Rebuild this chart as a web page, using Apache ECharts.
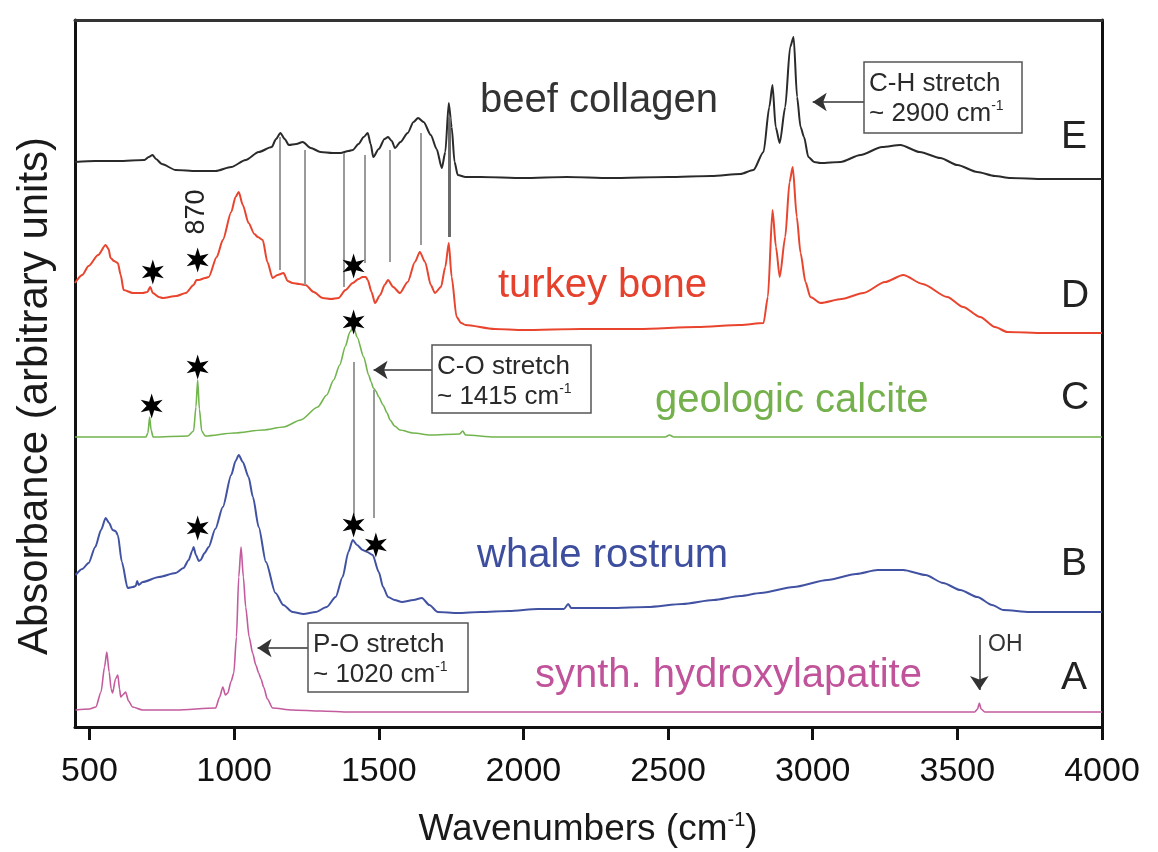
<!DOCTYPE html>
<html><head><meta charset="utf-8">
<script src="https://cdn.jsdelivr.net/npm/echarts@6/dist/echarts.min.js"></script>
<style>html,body{margin:0;padding:0;background:#fff}#c{width:1158px;height:852px}</style>
</head><body><div id="c"></div>
<script>
// ---------------- data (wavenumber cm-1, absorbance arbitrary units with offsets) ----------------
const xTicks = [500, 1000, 1500, 2000, 2500, 3000, 3500, 4000];

const beefCollagen = [[450,565],[520,566],[600,566],[690,567],[705,570],[718,572],[730,568],[750,563],[798,557],[870,556],[936,556],[990,560],[1040,567],[1085,575],[1130,580],[1145,588],[1160,594],[1175,588],[1189,582],[1215,583],[1237,585],[1265,579],[1299,575],[1340,574],[1368,574],[1395,576],[1410,577],[1430,583],[1448,590],[1462,594],[1472,583],[1481,570],[1500,578],[1520,588],[1532,590],[1545,586],[1556,579],[1575,585],[1600,594],[1620,605],[1636,609],[1655,605],[1680,592],[1700,578],[1718,559],[1730,575],[1742,624],[1752,600],[1762,565],[1773,552],[1800,550],[1852,550],[2000,549],[2150,550],[2300,549],[2500,550],[2650,551],[2750,553],[2795,557],[2830,575],[2850,620],[2861,642],[2872,600],[2886,584],[2905,620],[2922,680],[2934,690],[2946,630],[2958,600],[2970,590],[2985,570],[3005,565],[3027,564],[3096,565],[3165,572],[3240,580],[3303,582],[3370,575],[3441,569],[3500,562],[3569,555],[3630,551],[3683,549],[3800,548],[4000,548]];

const turkeyBone = [[450,444],[475,452],[497,461],[530,472],[556,482],[566,478],[573,469],[585,466],[598,464],[608,452],[618,437],[650,434],[684,434],[700,435],[710,440],[719,434],[740,430],[753,429],[800,431],[833,434],[860,442],[870,447],[878,447],[900,449],[912,450],[940,470],[961,487],[990,515],[1005,530],[1016,535],[1030,522],[1050,504],[1070,493],[1082,490],[1099,487],[1115,465],[1133,449],[1150,452],[1171,454],[1185,446],[1202,444],[1225,443],[1247,442],[1275,435],[1306,429],[1335,428],[1361,429],[1385,437],[1410,444],[1430,448],[1444,450],[1455,450],[1462,447],[1475,435],[1487,424],[1505,432],[1520,442],[1532,447],[1550,440],[1573,434],[1600,445],[1625,465],[1642,475],[1660,465],[1680,442],[1694,434],[1715,440],[1730,460],[1742,484],[1752,450],[1769,410],[1785,404],[1800,402],[1900,398],[2000,397],[2200,398],[2400,398],[2600,400],[2750,402],[2830,404],[2845,430],[2861,517],[2873,480],[2886,450],[2905,490],[2920,545],[2931,560],[2945,510],[2958,474],[2975,445],[2992,430],[3027,424],[3100,428],[3175,434],[3250,445],[3313,452],[3380,443],[3465,430],[3520,420],[3579,410],[3630,400],[3673,395],[3800,394],[4000,394]];

const geologicCalcite = [[450,290],[600,290],[695,290],[702,294],[708,310],[713,297],[720,290],[840,291],[860,296],[868,320],[874,347],[880,318],[888,296],[900,291],[1000,294],[1100,297],[1171,300],[1230,307],[1289,320],[1320,332],[1344,347],[1365,362],[1385,381],[1400,395],[1413,400],[1425,390],[1448,370],[1465,352],[1474,345],[1481,339],[1490,336],[1500,330],[1515,322],[1529,314],[1539,307],[1555,301],[1573,297],[1620,294],[1677,292],[1780,293],[1790,296],[1800,292],[1900,290],[2000,290],[2490,290],[2505,292],[2520,290],[3000,290],[4000,290]];

const whaleRostrum = [[452,152],[475,158],[497,164],[520,180],[540,197],[556,209],[568,204],[580,197],[590,196],[598,192],[612,165],[632,139],[650,140],[660,141],[665,146],[670,142],[684,145],[740,150],[798,154],[825,159],[843,167],[855,176],[860,180],[868,172],[878,166],[884,167],[898,174],[912,180],[935,198],[961,220],[990,252],[1005,266],[1016,272],[1030,265],[1050,250],[1065,230],[1085,200],[1110,165],[1143,134],[1170,122],[1202,115],[1240,113],[1282,115],[1320,120],[1351,130],[1375,150],[1395,175],[1410,187],[1425,182],[1444,177],[1460,175],[1479,172],[1500,155],[1515,140],[1532,130],[1555,127],[1580,125],[1620,127],[1649,129],[1675,122],[1704,115],[1773,114],[1852,115],[1950,116],[2050,118],[2140,118],[2155,123],[2165,119],[2300,119],[2429,120],[2550,123],[2657,127],[2750,131],[2820,134],[2934,140],[3051,147],[3150,153],[3224,157],[3313,157],[3390,152],[3451,144],[3510,137],[3569,130],[3620,122],[3659,117],[3750,115],[4000,115]];

const synthHydroxylapatite = [[452,17],[500,18],[522,20],[540,35],[552,60],[560,75],[568,55],[575,38],[580,34],[590,48],[598,52],[604,38],[608,30],[615,32],[625,35],[635,26],[649,20],[684,17],[800,17],[936,19],[950,30],[961,40],[970,32],[978,34],[990,46],[999,54],[1008,90],[1016,150],[1024,180],[1032,150],[1040,120],[1052,90],[1064,74],[1075,62],[1085,54],[1093,48],[1102,40],[1115,28],[1133,19],[1200,17],[1300,16],[1400,15],[2000,15],[3000,15],[3560,15],[3570,18],[3576,24],[3582,18],[3595,15],[4000,15]];

// asterisk markers [wavenumber, absorbance]
const starMarks = [[719,455],[874,467],[1413,461],[715,321],[874,360],[1413,405],[874,199],[1413,202],[1490,182]];

// correlation guide lines [wavenumber, top, bottom]
const guideLines = [[1157,590,457],[1243,577,442],[1379,574,440],[1451,572,464],[1538,577,465],[1645,594,482],[1413,365,212],[1482,337,209]];
const strongGuide = [[1745,610,490]];

// annotation arrows [fromX, fromY, toX, toY]
const arrows = [[3180,625,3000,625],[1686,357,1482,357],[1258,79,1081,79],[3576,92,3576,37]];

// ---------------- chart ----------------
const FONT = '"Liberation Sans", Arial, Helvetica, sans-serif';
const chart = echarts.init(document.getElementById('c'));

const STAR = 'path://M10 0L12 6.54L18.66 5L14 10L18.66 15L12 13.46L10 20L8 13.46L1.34 15L6 10L1.34 5L8 6.54Z';

function spectrum(name, data, color, width) {
  return {
    name, type: 'line', data, showSymbol: false, symbol: 'none',
    smooth: 0.25, smoothMonotone: 'x',
    lineStyle: { color, width }, z: 3, silent: true
  };
}

const series = [
  spectrum('beef collagen', beefCollagen, '#2a2a2a', 2),
  spectrum('turkey bone', turkeyBone, '#e8442e', 2),
  spectrum('geologic calcite', geologicCalcite, '#72b44e', 1.6),
  spectrum('whale rostrum', whaleRostrum, '#4252a2', 2),
  spectrum('synth. hydroxylapatite', synthHydroxylapatite, '#c35b9d', 1.6),
  {
    name: 'guides', type: 'line', data: [], z: 2, silent: true,
    markLine: {
      silent: true, symbol: 'none', animation: false,
      label: { show: false },
      lineStyle: { color: '#9a9a9a', width: 2, type: 'solid' },
      data: guideLines.map(g => [{ coord: [g[0], g[1]] }, { coord: [g[0], g[2]] }])
        .concat(strongGuide.map(g => [{ coord: [g[0], g[1]], lineStyle: { color: '#6a6a6a', width: 3, type: 'solid' } }, { coord: [g[0], g[2]] }]))
    }
  },
  {
    name: 'arrows', type: 'line', data: [], z: 6, silent: true,
    markLine: {
      silent: true, symbol: ['none', 'arrow'], symbolSize: 14, animation: false,
      label: { show: false },
      lineStyle: { color: '#333', width: 1.5, type: 'solid' },
      data: arrows.map(a => [{ coord: [a[0], a[1]] }, { coord: [a[2], a[3]] }])
    }
  },
  {
    name: 'stars', type: 'scatter', data: starMarks, symbol: STAR, symbolSize: [22, 25],
    itemStyle: { color: '#000', opacity: 1 }, z: 8, silent: true
  }
];

const titleRich = {
  a: { fontSize: 37, fontFamily: FONT, fill: '#1a1a1a', lineHeight: 40 },
  s: { fontSize: 20, fontFamily: FONT, fill: '#1a1a1a', verticalAlign: 'top', lineHeight: 40 }
};
const boxRich = {
  n: { fontSize: 26, fontFamily: FONT, fill: '#2a2a2a', lineHeight: 30 },
  s: { fontSize: 14, fontFamily: FONT, fill: '#2a2a2a', verticalAlign: 'top', lineHeight: 30 }
};

function label(text, x, y, color, size) {
  return { type: 'text', x, y, z: 20, silent: true,
    style: { text, fill: color, fontSize: size, fontFamily: FONT, align: 'left', verticalAlign: 'middle' } };
}
function box(x, y, w, h, l1, l2) {
  return [
    { type: 'rect', z: 15, silent: true, shape: { x, y, width: w, height: h },
      style: { fill: '#fff', stroke: '#555', lineWidth: 1.5 } },
    { type: 'text', z: 16, silent: true, x: x + 5, y: y + 7,
      style: { text: '{n|' + l1 + '}\n{n|' + l2 + '}{s|-1}', rich: boxRich, align: 'left', verticalAlign: 'top' } }
  ];
}

const graphics = [
  { type: 'text', x: 35, y: 396, rotation: Math.PI / 2, z: 20, silent: true,
    style: { text: 'Absorbance (arbitrary units)', fill: '#1a1a1a', fontSize: 42, fontFamily: FONT, align: 'center', verticalAlign: 'middle' } },
  { type: 'text', x: 588, y: 830, z: 20, silent: true,
    style: { text: '{a|Wavenumbers (cm}{s|-1}{a|)}', rich: titleRich, align: 'center', verticalAlign: 'middle' } },
  label('beef collagen', 480, 101, '#333333', 40),
  label('turkey bone', 498, 286, '#e5412d', 40),
  label('geologic calcite', 655, 401, '#74b04c', 40),
  label('whale rostrum', 477, 556, '#3e4e9e', 40),
  label('synth. hydroxylapatite', 535, 676, '#c0539a', 40),
  label('E', 1061, 137, '#222', 39),
  label('D', 1061, 296, '#222', 39),
  label('C', 1061, 398, '#222', 39),
  label('B', 1061, 564, '#222', 39),
  label('A', 1061, 678, '#222', 39),
  label('OH', 988, 645, '#333', 23),
  { type: 'text', x: 197, y: 212, rotation: Math.PI / 2, z: 20, silent: true,
    style: { text: '870', fill: '#222', fontSize: 27, fontFamily: FONT, align: 'center', verticalAlign: 'middle' } }
].concat(box(864, 62, 158, 71, 'C-H stretch', '~ 2900 cm'))
 .concat(box(432, 345, 159, 68, 'C-O stretch', '~ 1415 cm'))
 .concat(box(308, 623, 160, 69, 'P-O stretch', '~ 1020 cm'));

chart.setOption({
  animation: false,
  backgroundColor: '#fff',
  grid: { left: 75, right: 56, top: 20, bottom: 125, containLabel: false },
  xAxis: [
    { type: 'value', min: 450, max: 4000, position: 'bottom',
      axisLine: { show: true, onZero: false, lineStyle: { color: '#111', width: 3 } },
      axisTick: { show: true, customValues: xTicks, length: 13, inside: false, lineStyle: { color: '#111', width: 3 } },
      axisLabel: { show: true, customValues: xTicks, fontSize: 34, fontFamily: FONT, color: '#111', margin: 28,
        formatter: v => String(v) },
      splitLine: { show: false } },
    { type: 'value', min: 450, max: 4000, position: 'top',
      axisLine: { show: true, onZero: false, lineStyle: { color: '#333', width: 3 } },
      axisTick: { show: false }, axisLabel: { show: false }, splitLine: { show: false } }
  ],
  yAxis: [
    { type: 'value', min: 0, max: 707, position: 'left',
      axisLine: { show: true, onZero: false, lineStyle: { color: '#111', width: 3 } },
      axisTick: { show: false }, axisLabel: { show: false }, splitLine: { show: false } },
    { type: 'value', min: 0, max: 707, position: 'right',
      axisLine: { show: true, onZero: false, lineStyle: { color: '#111', width: 3 } },
      axisTick: { show: false }, axisLabel: { show: false }, splitLine: { show: false } }
  ],
  series,
  graphic: graphics
});
</script>
</body></html>
